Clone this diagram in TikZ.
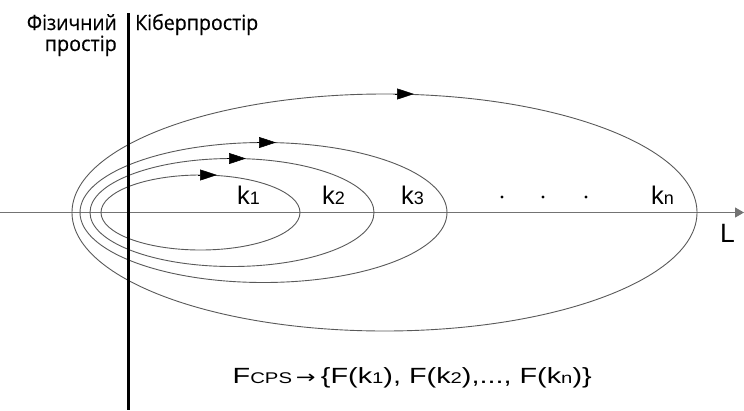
\documentclass[tikz,border=0pt]{standalone}
\usepackage{graphicx}
\usepackage{fontspec}
\setmainfont{Liberation Sans}
\newfontfamily\hdr[FakeBold=0.4]{Open Sans}
\newfontfamily\arrf{DejaVu Sans}
\usetikzlibrary{arrows.meta}
\newcommand{\sbs}[1]{{\fontsize{18}{18}\selectfont #1}}
\newcommand{\sbf}[1]{{\fontsize{15.5}{15.5}\selectfont #1}}
\begin{document}
\begin{tikzpicture}[x=1pt,y=-1pt,
  orbit/.style={draw=black!65, line width=0.9pt},
  tipmark/.style={draw=black, line width=0.5pt, -{Triangle[length=17pt,width=11pt]}},
  axis/.style={draw=black!55, line width=1.1pt, -{Triangle[length=9pt,width=10pt]}},
  klabel/.style={anchor=base west, inner sep=0pt, font=\fontsize{25.5}{25.5}\selectfont},
  head/.style={inner sep=0pt, font=\hdr\fontsize{21}{22}\selectfont}]
\useasboundingbox (0,0) rectangle (744,410);
% axis
\coordinate (ax0) at (0,212.5);
\coordinate (ax1) at (744,212.5);
\draw[axis] (ax0) -- (ax1);
% orbits
\draw[orbit] (200.5,212.5) ellipse [x radius=99.5, y radius=37.5];
\draw[orbit] (232,212.5) ellipse [x radius=142, y radius=54];
\draw[orbit] (263.5,212.5) ellipse [x radius=183.5, y radius=70];
\draw[orbit] (384.5,212.5) ellipse [x radius=312.5, y radius=118.5];
% direction marks
\coordinate (a1) at (198,175); \coordinate (b1) at (217,175);
\coordinate (a2) at (227,158.5); \coordinate (b2) at (246,158.5);
\coordinate (a3) at (257,142.5); \coordinate (b3) at (276,142.5);
\coordinate (an) at (395,94); \coordinate (bn) at (414,94);
\draw[tipmark] (a1) -- (b1);
\draw[tipmark] (a2) -- (b2);
\draw[tipmark] (a3) -- (b3);
\draw[tipmark] (an) -- (bn);
% vertical divider
\coordinate (v0) at (128.5,13);
\coordinate (v1) at (128.5,410);
\draw[line width=2.4pt] (v0) -- (v1);
% labels
\node[klabel] (k1) at (237,204) {k\sbs{1}};
\node[klabel] (k2) at (322,204) {k\sbs{2}};
\node[klabel] (k3) at (401,204) {k\sbs{3}};
\node[klabel] (kn) at (651,204) {k\sbs{n}};
\node[klabel, font=\fontsize{26.5}{26.5}\selectfont] (L) at (720,242) {L};
\fill (502,197) circle (1.6);
\fill (543,197) circle (1.6);
\fill (586,197) circle (1.6);
% headers
\node[head, anchor=base east] (phys1) at (117,30) {\resizebox{90pt}{\height}{Фізичний}};
\node[head, anchor=base east] (phys2) at (117,51) {\resizebox{72pt}{\height}{простір}};
\node[head, anchor=base west] (cyber) at (135,30) {\resizebox{123pt}{\height}{Кіберпростір}};
% formula
\node[anchor=base west, inner sep=0pt, font=\fontsize{22}{22}\selectfont] (form) at (232.5,383.5)
  {\resizebox{359pt}{\height}{F\sbf{CPS}\kern3pt{\arrf\fontsize{18}{18}\selectfont →}\kern4pt\{F(k\sbf{1}), F(k\sbf{2}),..., F(k\sbf{n})\}}};
\end{tikzpicture}
\end{document}
